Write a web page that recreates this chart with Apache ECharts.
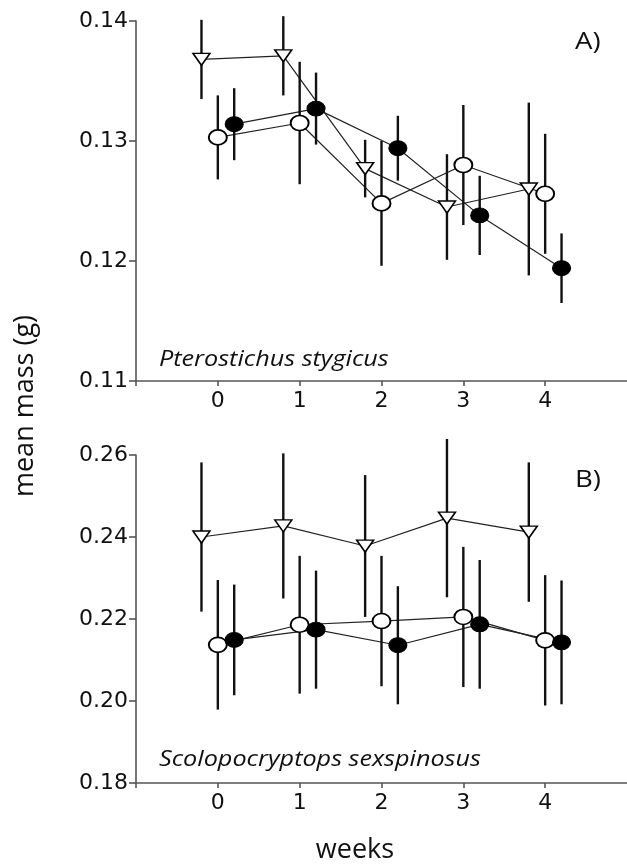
<!DOCTYPE html>
<html>
<head>
<meta charset="utf-8">
<script src="https://cdn.jsdelivr.net/npm/echarts@6/dist/echarts.min.js"></script>
<style>
html,body{margin:0;padding:0;background:#fff;}
#chart{width:627px;height:865px;}
</style>
</head>
<body>
<div id="chart"></div>
<script>
// ---- data ----
const weeks = [0, 1, 2, 3, 4];
const xTickLabels = [0, 1, 2, 3, 4];
const yTicksA = [0.11, 0.12, 0.13, 0.14];
const yTicksB = [0.18, 0.20, 0.22, 0.24, 0.26];

// Panel A: Pterostichus stygicus
const aTriMean  = [0.1368, 0.1371, 0.1277, 0.1245, 0.1260];
const aTriSE    = [0.0033, 0.0033, 0.0024, 0.0044, 0.0072];
const aOpenMean = [0.1303, 0.1315, 0.1248, 0.1280, 0.1256];
const aOpenSE   = [0.0035, 0.0051, 0.0052, 0.0050, 0.0050];
const aFillMean = [0.1314, 0.1327, 0.1294, 0.1238, 0.1194];
const aFillSE   = [0.0030, 0.0030, 0.0027, 0.0033, 0.0029];

// Panel B: Scolopocryptops sexspinosus
const bTriMean  = [0.2400, 0.2427, 0.2378, 0.2446, 0.2412];
const bTriSE    = [0.0182, 0.0177, 0.0173, 0.0193, 0.0170];
const bOpenMean = [0.2137, 0.2186, 0.2195, 0.2205, 0.2148];
const bOpenSE   = [0.0158, 0.0168, 0.0159, 0.0171, 0.0159];
const bFillMean = [0.2149, 0.2174, 0.2136, 0.2187, 0.2143];
const bFillSE   = [0.0135, 0.0144, 0.0144, 0.0157, 0.0151];

// ---- build ----
const OFFSET = { tri: -0.2, open: 0, fill: 0.2 };
const TRI_PATH = 'path://M0,0 L20,0 L10,13 Z';

function pts(means, off) {
  return weeks.map((w, i) => [w + off, means[i]]);
}
function errPts(means, se, off) {
  return weeks.map((w, i) => [w + off, means[i] - se[i], means[i] + se[i]]);
}
function errRender(params, api) {
  const x = api.value(0);
  const lo = api.coord([x, api.value(1)]);
  const hi = api.coord([x, api.value(2)]);
  return {
    type: 'line',
    shape: { x1: lo[0], y1: lo[1], x2: hi[0], y2: hi[1] },
    style: { stroke: '#111', lineWidth: 2.4 }
  };
}
const markerStyle = {
  tri:  { symbol: TRI_PATH, symbolSize: [17, 12], itemStyle: { color: '#fff', borderColor: '#000', borderWidth: 1.5, opacity: 1 } },
  open: { symbol: 'circle', symbolSize: [18, 15], itemStyle: { color: '#fff', borderColor: '#000', borderWidth: 1.8, opacity: 1 } },
  fill: { symbol: 'circle', symbolSize: [18, 15], itemStyle: { color: '#000', borderColor: '#000', borderWidth: 1, opacity: 1 } }
};

function panelSeries(idx, groups) {
  const out = [];
  groups.forEach(g => {
    out.push({
      type: 'line', xAxisIndex: idx, yAxisIndex: idx, z: 2,
      data: pts(g.mean, OFFSET[g.kind]), showSymbol: false, symbol: 'none',
      lineStyle: { color: '#222', width: 1.2 }, silent: true, animation: false
    });
  });
  groups.forEach(g => {
    out.push({
      type: 'custom', xAxisIndex: idx, yAxisIndex: idx, z: 3,
      data: errPts(g.mean, g.se, OFFSET[g.kind]), renderItem: errRender,
      encode: { x: 0, y: [1, 2] }, silent: true, animation: false
    });
  });
  groups.forEach(g => {
    const s = markerStyle[g.kind];
    out.push(Object.assign({
      type: 'scatter', xAxisIndex: idx, yAxisIndex: idx, z: 4,
      data: pts(g.mean, OFFSET[g.kind]), silent: true, animation: false
    }, s));
  });
  return out;
}

const axisLineStyle = { color: '#555', width: 1.6 };
function xAxis(idx) {
  return {
    type: 'value', gridIndex: idx, min: -1, max: 5, interval: 1,
    splitLine: { show: false },
    axisLine: { onZero: false, lineStyle: axisLineStyle },
    axisTick: { length: 5, lineStyle: axisLineStyle, customValues: [-1].concat(xTickLabels) },
    axisLabel: { customValues: xTickLabels, margin: 9, color: '#111',
      fontFamily: 'DejaVu Sans', fontSize: 22 }
  };
}
function yAxis(idx, ticks) {
  const step = +(ticks[1] - ticks[0]).toFixed(4);
  return {
    type: 'value', gridIndex: idx, min: ticks[0], max: ticks[ticks.length - 1], interval: step,
    splitLine: { show: false },
    axisLine: { show: true, onZero: false, lineStyle: axisLineStyle },
    axisTick: { show: true, length: 7, lineStyle: axisLineStyle },
    axisLabel: { margin: 8, color: '#111', fontFamily: 'DejaVu Sans', fontSize: 22,
      formatter: v => v.toFixed(2) }
  };
}

const chart = echarts.init(document.getElementById('chart'), null, { renderer: 'canvas' });
chart.setOption({
  animation: false,
  backgroundColor: '#fff',
  grid: [
    { left: 136, right: 0, top: 21, height: 360 },
    { left: 136, right: 0, top: 455, height: 328 }
  ],
  xAxis: [xAxis(0), xAxis(1)],
  yAxis: [yAxis(0, yTicksA), yAxis(1, yTicksB)],
  series: [].concat(
    panelSeries(0, [
      { kind: 'tri', mean: aTriMean, se: aTriSE },
      { kind: 'open', mean: aOpenMean, se: aOpenSE },
      { kind: 'fill', mean: aFillMean, se: aFillSE }
    ]),
    panelSeries(1, [
      { kind: 'tri', mean: bTriMean, se: bTriSE },
      { kind: 'open', mean: bOpenMean, se: bOpenSE },
      { kind: 'fill', mean: bFillMean, se: bFillSE }
    ])
  ),
  graphic: [
    { type: 'text', x: 575, y: 42, scaleX: 1.15,
      style: { text: 'A)', font: '24px "Open Sans"', fill: '#111', verticalAlign: 'middle' } },
    { type: 'text', x: 575, y: 480, scaleX: 1.15,
      style: { text: 'B)', font: '24px "Open Sans"', fill: '#111', verticalAlign: 'middle' } },
    { type: 'text', x: 159, y: 360, scaleX: 1.2,
      style: { text: 'Pterostichus stygicus', font: 'italic 21px "Open Sans"', fill: '#111', verticalAlign: 'middle' } },
    { type: 'text', x: 159, y: 760, scaleX: 1.2,
      style: { text: 'Scolopocryptops sexspinosus', font: 'italic 21px "Open Sans"', fill: '#111', verticalAlign: 'middle' } },
    { type: 'text', x: 355, y: 850,
      style: { text: 'weeks', font: '27px "Open Sans"', fill: '#111', align: 'center', verticalAlign: 'middle' } },
    { type: 'text', x: 25, y: 406, rotation: Math.PI / 2,
      style: { text: 'mean mass (g)', font: '27px "Open Sans"', fill: '#111', align: 'center', verticalAlign: 'middle' } }
  ]
});
</script>
</body>
</html>
